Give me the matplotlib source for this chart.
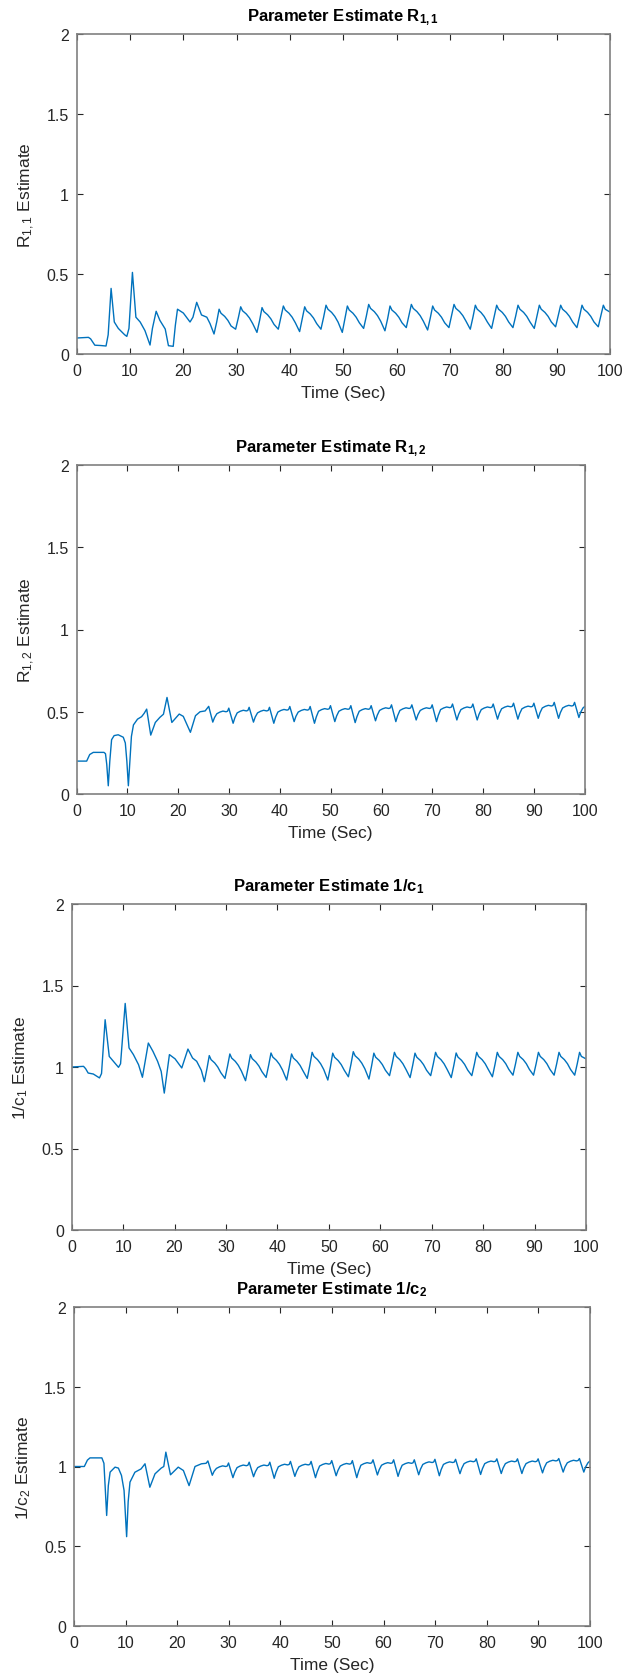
import matplotlib
matplotlib.use("Agg")
import matplotlib.pyplot as plt
from matplotlib.ticker import FixedLocator, FuncFormatter

plt.rcParams['font.family'] = ['Liberation Sans', 'DejaVu Sans']
plt.rcParams['mathtext.fontset'] = 'custom'
plt.rcParams['mathtext.rm'] = 'Liberation Sans'
plt.rcParams['mathtext.it'] = 'Liberation Sans'
plt.rcParams['mathtext.bf'] = 'Liberation Sans:bold'

# ---------------- data ----------------
t_r11 = [0, 2.2, 2.6, 3.4, 4.5, 5.5, 5.9, 6.45, 7.05, 7.8, 9.0, 9.4, 9.8, 10.45, 11.1, 11.9, 12.8, 13.75,
         14.2, 14.9, 15.6, 16.6, 17.2, 18.1, 18.5, 18.9, 20.0, 21.25, 21.8, 22.5, 23.4, 24.4, 25.0,
         25.75, 26.25, 26.7, 27.05, 27.75, 28.35, 28.95,
         29.8, 30.3, 30.75, 31.1, 31.8, 32.4, 33.0,
         33.8, 34.3, 34.75, 35.1, 35.8, 36.4, 37.0,
         37.8, 38.3, 38.75, 39.1, 39.8, 40.4, 41.0,
         41.8, 42.3, 42.75, 43.1, 43.8, 44.4, 45.0,
         45.8, 46.3, 46.75, 47.1, 47.8, 48.4, 49.0,
         49.8, 50.3, 50.75, 51.1, 51.8, 52.4, 53.0,
         53.8, 54.3, 54.75, 55.1, 55.8, 56.4, 57.0,
         57.8, 58.3, 58.75, 59.1, 59.8, 60.4, 61.0,
         61.8, 62.3, 62.75, 63.1, 63.8, 64.4, 65.0,
         65.8, 66.3, 66.75, 67.1, 67.8, 68.4, 69.0,
         69.8, 70.3, 70.75, 71.1, 71.8, 72.4, 73.0,
         73.8, 74.3, 74.75, 75.1, 75.8, 76.4, 77.0,
         77.8, 78.3, 78.75, 79.1, 79.8, 80.4, 81.0,
         81.8, 82.3, 82.75, 83.1, 83.8, 84.4, 85.0,
         85.8, 86.3, 86.75, 87.1, 87.8, 88.4, 89.0,
         89.8, 90.3, 90.75, 91.1, 91.8, 92.4, 93.0,
         93.8, 94.3, 94.75, 95.1, 95.8, 96.4, 97.0,
         97.8, 98.3, 98.75, 99.1, 100]
v_r11 = [0.10, 0.104, 0.095, 0.055, 0.053, 0.05, 0.12, 0.41, 0.20, 0.16, 0.12, 0.11, 0.16, 0.51, 0.23, 0.20, 0.146, 0.056,
         0.16, 0.267, 0.21, 0.156, 0.052, 0.048, 0.18, 0.28, 0.256, 0.20, 0.23, 0.323, 0.244, 0.23, 0.19,
         0.125, 0.20, 0.28, 0.255, 0.235, 0.21, 0.175,
         0.155, 0.225, 0.295, 0.27, 0.25, 0.225, 0.19,
         0.135, 0.21, 0.29, 0.265, 0.245, 0.22, 0.185,
         0.155, 0.23, 0.30, 0.275, 0.255, 0.23, 0.195,
         0.14, 0.22, 0.295, 0.27, 0.25, 0.225, 0.19,
         0.155, 0.23, 0.305, 0.28, 0.26, 0.235, 0.20,
         0.135, 0.22, 0.30, 0.275, 0.255, 0.23, 0.195,
         0.16, 0.235, 0.31, 0.285, 0.265, 0.24, 0.205,
         0.145, 0.22, 0.30, 0.275, 0.255, 0.23, 0.195,
         0.165, 0.24, 0.31, 0.285, 0.265, 0.24, 0.205,
         0.15, 0.225, 0.30, 0.275, 0.255, 0.23, 0.195,
         0.165, 0.24, 0.31, 0.285, 0.265, 0.24, 0.205,
         0.155, 0.23, 0.305, 0.28, 0.26, 0.235, 0.20,
         0.16, 0.235, 0.305, 0.28, 0.26, 0.235, 0.20,
         0.165, 0.235, 0.305, 0.28, 0.26, 0.235, 0.20,
         0.16, 0.235, 0.305, 0.28, 0.26, 0.235, 0.20,
         0.17, 0.24, 0.305, 0.28, 0.26, 0.235, 0.20,
         0.165, 0.235, 0.305, 0.28, 0.26, 0.235, 0.20,
         0.17, 0.24, 0.305, 0.28, 0.262]

t_r12 = [0, 2.0, 2.6, 3.3, 5.4, 5.7, 5.95, 6.25, 6.55, 6.9, 7.4, 8.2, 9.2, 9.6, 9.9, 10.2, 10.5, 10.8,
         11.2, 12.0, 12.8, 13.3, 13.8, 14.6, 15.5, 16.4, 17.1, 17.8, 18.75, 20.2, 21.0, 22.4, 23.4, 24.3,
         25.3, 26.0,
         26.8, 27.15, 27.6, 28.2, 28.8, 29.4, 29.7, 29.95,
         30.8, 31.15, 31.6, 32.2, 32.8, 33.4, 33.7, 33.95,
         34.8, 35.15, 35.6, 36.2, 36.8, 37.4, 37.7, 37.95,
         38.8, 39.15, 39.6, 40.2, 40.8, 41.4, 41.7, 41.95,
         42.8, 43.15, 43.6, 44.2, 44.8, 45.4, 45.7, 45.95,
         46.8, 47.15, 47.6, 48.2, 48.8, 49.4, 49.7, 49.95,
         50.8, 51.15, 51.6, 52.2, 52.8, 53.4, 53.7, 53.95,
         54.8, 55.15, 55.6, 56.2, 56.8, 57.4, 57.7, 57.95,
         58.8, 59.15, 59.6, 60.2, 60.8, 61.4, 61.7, 61.95,
         62.8, 63.15, 63.6, 64.2, 64.8, 65.4, 65.7, 65.95,
         66.8, 67.15, 67.6, 68.2, 68.8, 69.4, 69.7, 69.95,
         70.8, 71.15, 71.6, 72.2, 72.8, 73.4, 73.7, 73.95,
         74.8, 75.15, 75.6, 76.2, 76.8, 77.4, 77.7, 77.95,
         78.8, 79.15, 79.6, 80.2, 80.8, 81.4, 81.7, 81.95,
         82.8, 83.15, 83.6, 84.2, 84.8, 85.4, 85.7, 85.95,
         86.8, 87.15, 87.6, 88.2, 88.8, 89.4, 89.7, 89.95,
         90.8, 91.15, 91.6, 92.2, 92.8, 93.4, 93.7, 93.95,
         94.8, 95.15, 95.6, 96.2, 96.8, 97.4, 97.7, 97.95,
         98.8, 99.15, 99.6, 100]
v_r12 = [0.20, 0.20, 0.24, 0.253, 0.253, 0.245, 0.18, 0.05, 0.20, 0.33, 0.355, 0.36, 0.345, 0.31, 0.20, 0.05, 0.20, 0.35,
         0.42, 0.455, 0.47, 0.49, 0.516, 0.358, 0.435, 0.466, 0.485, 0.587, 0.435, 0.486, 0.472, 0.375, 0.476, 0.50,
         0.505, 0.533,
         0.437, 0.465, 0.488, 0.498, 0.504, 0.50, 0.503, 0.522,
         0.43, 0.464, 0.493, 0.503, 0.509, 0.505, 0.508, 0.527,
         0.437, 0.468, 0.493, 0.503, 0.509, 0.505, 0.508, 0.527,
         0.43, 0.466, 0.498, 0.508, 0.514, 0.51, 0.513, 0.532,
         0.44, 0.472, 0.498, 0.508, 0.514, 0.51, 0.513, 0.532,
         0.43, 0.468, 0.503, 0.513, 0.519, 0.515, 0.518, 0.537,
         0.44, 0.474, 0.503, 0.513, 0.519, 0.515, 0.518, 0.537,
         0.434, 0.47, 0.503, 0.513, 0.519, 0.515, 0.518, 0.537,
         0.445, 0.479, 0.508, 0.518, 0.524, 0.52, 0.523, 0.542,
         0.44, 0.476, 0.508, 0.518, 0.524, 0.52, 0.523, 0.542,
         0.45, 0.482, 0.508, 0.518, 0.524, 0.52, 0.523, 0.542,
         0.44, 0.478, 0.513, 0.523, 0.529, 0.525, 0.528, 0.547,
         0.45, 0.484, 0.513, 0.523, 0.529, 0.525, 0.528, 0.547,
         0.45, 0.484, 0.513, 0.523, 0.529, 0.525, 0.528, 0.547,
         0.455, 0.489, 0.518, 0.528, 0.534, 0.53, 0.533, 0.552,
         0.455, 0.489, 0.518, 0.528, 0.534, 0.53, 0.533, 0.552,
         0.46, 0.494, 0.523, 0.533, 0.539, 0.535, 0.538, 0.557,
         0.46, 0.494, 0.523, 0.533, 0.539, 0.535, 0.538, 0.557,
         0.465, 0.497, 0.523, 0.533]

t_c1 = [0, 2.3, 2.7, 3.2, 4.2, 5.4, 5.8, 6.5, 7.3, 8.1, 9.1, 9.5, 10.4, 11.15, 12.0, 13.0, 13.75, 14.9,
        15.8, 16.7, 17.4, 18.0, 19.0, 20.1, 21.4, 22.6, 23.5, 24.3, 25.2,
        25.8, 26.3, 26.75, 27.1, 27.8, 28.4, 29.0,
        29.8, 30.3, 30.75, 31.1, 31.8, 32.4, 33.0,
        33.8, 34.3, 34.75, 35.1, 35.8, 36.4, 37.0,
        37.8, 38.3, 38.75, 39.1, 39.8, 40.4, 41.0,
        41.8, 42.3, 42.75, 43.1, 43.8, 44.4, 45.0,
        45.8, 46.3, 46.75, 47.1, 47.8, 48.4, 49.0,
        49.8, 50.3, 50.75, 51.1, 51.8, 52.4, 53.0,
        53.8, 54.3, 54.75, 55.1, 55.8, 56.4, 57.0,
        57.8, 58.3, 58.75, 59.1, 59.8, 60.4, 61.0,
        61.8, 62.3, 62.75, 63.1, 63.8, 64.4, 65.0,
        65.8, 66.3, 66.75, 67.1, 67.8, 68.4, 69.0,
        69.8, 70.3, 70.75, 71.1, 71.8, 72.4, 73.0,
        73.8, 74.3, 74.75, 75.1, 75.8, 76.4, 77.0,
        77.8, 78.3, 78.75, 79.1, 79.8, 80.4, 81.0,
        81.8, 82.3, 82.75, 83.1, 83.8, 84.4, 85.0,
        85.8, 86.3, 86.75, 87.1, 87.8, 88.4, 89.0,
        89.8, 90.3, 90.75, 91.1, 91.8, 92.4, 93.0,
        93.8, 94.3, 94.75, 95.1, 95.8, 96.4, 97.0,
        97.8, 98.3, 98.75, 99.1, 100]
v_c1 = [1.0, 1.004, 0.99, 0.963, 0.957, 0.933, 0.96, 1.29, 1.065, 1.035, 0.998, 1.02, 1.39, 1.117, 1.076, 1.014, 0.937, 1.147,
        1.096, 1.035, 0.973, 0.84, 1.076, 1.05, 0.994, 1.11, 1.055, 1.035, 0.98,
        0.91, 0.99, 1.07, 1.045, 1.025, 1.0, 0.965,
        0.93, 1.005, 1.08, 1.055, 1.035, 1.01, 0.975,
        0.916, 0.996, 1.076, 1.051, 1.031, 1.006, 0.971,
        0.936, 1.011, 1.086, 1.061, 1.041, 1.016, 0.981,
        0.92, 1.0, 1.08, 1.055, 1.035, 1.01, 0.975,
        0.93, 1.01, 1.09, 1.065, 1.045, 1.02, 0.985,
        0.92, 1.0, 1.085, 1.06, 1.04, 1.015, 0.98,
        0.94, 1.017, 1.094, 1.069, 1.049, 1.024, 0.989,
        0.926, 1.005, 1.085, 1.06, 1.04, 1.015, 0.98,
        0.947, 1.018, 1.09, 1.065, 1.045, 1.02, 0.985,
        0.935, 1.01, 1.085, 1.06, 1.04, 1.015, 0.98,
        0.947, 1.018, 1.09, 1.065, 1.045, 1.02, 0.985,
        0.935, 1.01, 1.086, 1.061, 1.041, 1.016, 0.981,
        0.947, 1.018, 1.09, 1.065, 1.045, 1.02, 0.985,
        0.94, 1.015, 1.09, 1.065, 1.045, 1.02, 0.985,
        0.95, 1.02, 1.09, 1.065, 1.045, 1.02, 0.985,
        0.95, 1.02, 1.09, 1.065, 1.045, 1.02, 0.985,
        0.95, 1.02, 1.09, 1.065, 1.045, 1.02, 0.985,
        0.95, 1.02, 1.09, 1.065, 1.05]

t_c2 = [0, 2.0, 2.6, 3.1, 5.4, 5.8, 6.33, 6.65, 7.0, 7.95, 8.6, 9.2, 9.7, 10.2, 10.5, 10.85, 11.8, 13.0,
        13.76, 14.7, 15.7, 16.9, 17.4, 17.8, 18.7, 20.2, 21.2, 22.3, 23.45, 24.7, 25.6, 25.95,
        26.8, 27.15, 27.6, 28.2, 28.8, 29.4, 29.7, 29.95,
        30.8, 31.15, 31.6, 32.2, 32.8, 33.4, 33.7, 33.95,
        34.8, 35.15, 35.6, 36.2, 36.8, 37.4, 37.7, 37.95,
        38.8, 39.15, 39.6, 40.2, 40.8, 41.4, 41.7, 41.95,
        42.8, 43.15, 43.6, 44.2, 44.8, 45.4, 45.7, 45.95,
        46.8, 47.15, 47.6, 48.2, 48.8, 49.4, 49.7, 49.95,
        50.8, 51.15, 51.6, 52.2, 52.8, 53.4, 53.7, 53.95,
        54.8, 55.15, 55.6, 56.2, 56.8, 57.4, 57.7, 57.95,
        58.8, 59.15, 59.6, 60.2, 60.8, 61.4, 61.7, 61.95,
        62.8, 63.15, 63.6, 64.2, 64.8, 65.4, 65.7, 65.95,
        66.8, 67.15, 67.6, 68.2, 68.8, 69.4, 69.7, 69.95,
        70.8, 71.15, 71.6, 72.2, 72.8, 73.4, 73.7, 73.95,
        74.8, 75.15, 75.6, 76.2, 76.8, 77.4, 77.7, 77.95,
        78.8, 79.15, 79.6, 80.2, 80.8, 81.4, 81.7, 81.95,
        82.8, 83.15, 83.6, 84.2, 84.8, 85.4, 85.7, 85.95,
        86.8, 87.15, 87.6, 88.2, 88.8, 89.4, 89.7, 89.95,
        90.8, 91.15, 91.6, 92.2, 92.8, 93.4, 93.7, 93.95,
        94.8, 95.15, 95.6, 96.2, 96.8, 97.4, 97.7, 97.95,
        98.8, 99.15, 99.6, 100]
v_c2 = [1.0, 1.0, 1.04, 1.054, 1.054, 1.02, 0.693, 0.88, 0.965, 0.996, 0.99, 0.944, 0.85, 0.56, 0.78, 0.902, 0.964, 0.985,
        1.017, 0.87, 0.954, 0.99, 1.0, 1.09, 0.948, 0.996, 0.975, 0.88, 1.0, 1.017, 1.02, 1.035,
        0.945, 0.97, 0.988, 0.998, 1.004, 1.0, 1.003, 1.022,
        0.93, 0.964, 0.993, 1.003, 1.009, 1.005, 1.008, 1.027,
        0.936, 0.967, 0.993, 1.003, 1.009, 1.005, 1.008, 1.027,
        0.926, 0.964, 0.998, 1.008, 1.014, 1.01, 1.013, 1.032,
        0.938, 0.97, 0.998, 1.008, 1.014, 1.01, 1.013, 1.032,
        0.93, 0.968, 1.003, 1.013, 1.019, 1.015, 1.018, 1.037,
        0.942, 0.975, 1.003, 1.013, 1.019, 1.015, 1.018, 1.037,
        0.93, 0.97, 1.008, 1.018, 1.024, 1.02, 1.023, 1.042,
        0.947, 0.98, 1.008, 1.018, 1.024, 1.02, 1.023, 1.042,
        0.938, 0.975, 1.008, 1.018, 1.024, 1.02, 1.023, 1.042,
        0.948, 0.983, 1.013, 1.023, 1.029, 1.025, 1.028, 1.045,
        0.942, 0.98, 1.013, 1.023, 1.029, 1.025, 1.028, 1.045,
        0.955, 0.989, 1.018, 1.028, 1.034, 1.03, 1.033, 1.048,
        0.95, 0.986, 1.018, 1.028, 1.034, 1.03, 1.033, 1.048,
        0.956, 0.99, 1.018, 1.028, 1.034, 1.03, 1.033, 1.048,
        0.956, 0.99, 1.018, 1.028, 1.034, 1.03, 1.033, 1.048,
        0.96, 0.994, 1.023, 1.033, 1.039, 1.035, 1.038, 1.05,
        0.965, 0.997, 1.023, 1.033, 1.039, 1.035, 1.038, 1.05,
        0.965, 0.997, 1.023, 1.035]

titles = [r'Parameter Estimate $\mathbf{R_{1,1}}$',
          r'Parameter Estimate $\mathbf{R_{1,2}}$',
          r'Parameter Estimate $\mathbf{1/c_1}$',
          r'Parameter Estimate $\mathbf{1/c_2}$']
ylabels = [r'$\mathregular{R_{1,1}}$ Estimate',
           r'$\mathregular{R_{1,2}}$ Estimate',
           r'$\mathregular{1/c_1}$ Estimate',
           r'$\mathregular{1/c_2}$ Estimate']
xlabel = 'Time (Sec)'
xticks = [0, 10, 20, 30, 40, 50, 60, 70, 80, 90, 100]
yticks = [0, 0.5, 1, 1.5, 2]
series = [(t_r11, v_r11), (t_r12, v_r12), (t_c1, v_c1), (t_c2, v_c2)]

# ---------------- layout ----------------
W, H = 637, 1674
fig = plt.figure(figsize=(W / 100, H / 100), dpi=100)
fig.patch.set_facecolor('white')

# pixel boxes: left, top, right, bottom
boxes = [(76.7, 35, 610, 355),
         (76.5, 466, 585, 795),
         (71.7, 905, 586, 1231),
         (74.0, 1308, 590, 1627)]

line_color = '#0072BD'
tick_color = '#262626'
spine_color = '#808080'

for (l, t, r, b), (tt, vv), ttl, yl in zip(boxes, series, titles, ylabels):
    ax = fig.add_axes([l / W, 1 - b / H, (r - l) / W, (b - t) / H])
    ax.plot(tt, vv, color=line_color, lw=1.0)
    ax.set_xlim(0, 100)
    ax.set_ylim(0, 2)
    ax.xaxis.set_major_locator(FixedLocator(xticks))
    ax.yaxis.set_major_locator(FixedLocator(yticks))
    fmt = FuncFormatter(lambda v, p: f'{v:g}')
    ax.xaxis.set_major_formatter(fmt)
    ax.yaxis.set_major_formatter(fmt)
    ax.tick_params(direction='in', top=True, right=True, length=4, width=0.8,
                   color=tick_color, labelcolor=tick_color, labelsize=11.5)
    ax.tick_params(axis='x', pad=6.5)
    ax.tick_params(axis='y', pad=5.5)
    for s in ax.spines.values():
        s.set_color(spine_color)
        s.set_linewidth(1.2)
    wpx, hpx = r - l, b - t
    ax.text(0.5, 1 + 14 / hpx, ttl, transform=ax.transAxes, ha='center', va='baseline',
            fontsize=12, fontweight='bold', color='black')
    ax.set_xlabel(xlabel, fontsize=12.5, color=tick_color)
    ax.xaxis.label.set_verticalalignment('baseline')
    ax.xaxis.set_label_coords(0.5, -43 / hpx)
    ax.set_ylabel(yl, fontsize=12.5, color=tick_color)
    ax.yaxis.label.set_verticalalignment('baseline')
    ax.yaxis.set_label_coords(-46 / wpx, 0.5)

fig.savefig('out.png', dpi=100, facecolor='white')
